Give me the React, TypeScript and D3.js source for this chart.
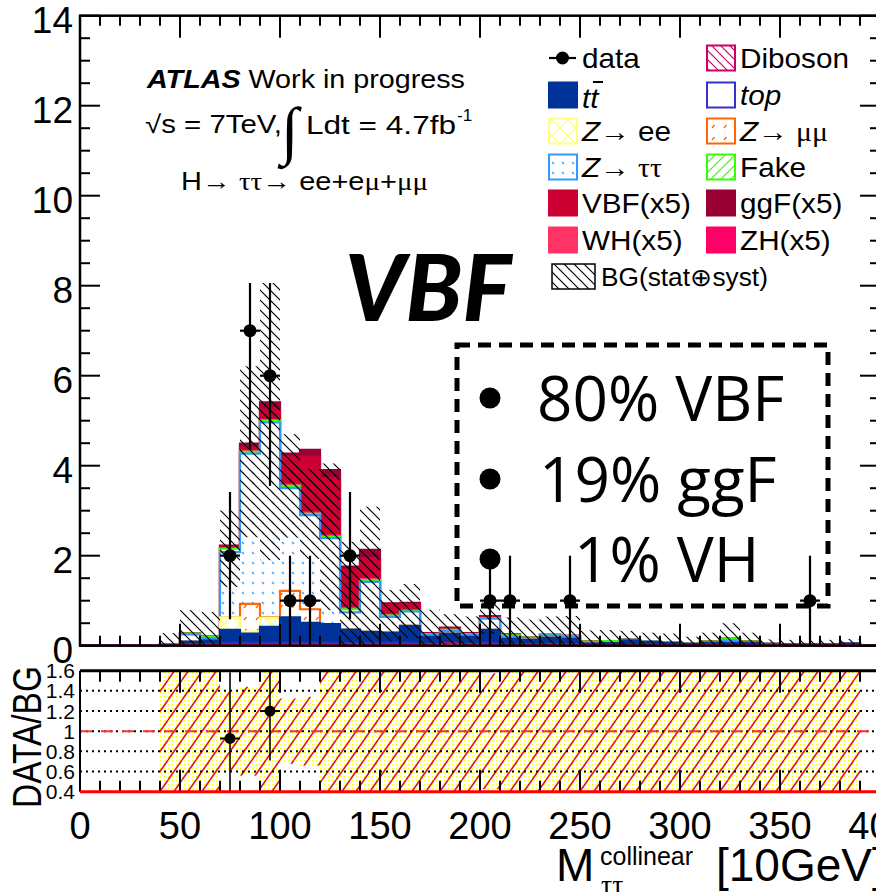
import React from "react";
import * as d3 from "d3";

// 10 GeV bins covering 0-400 on the collinear-mass axis
const binLowEdges = d3.range(0, 400, 10);
const BIN_WIDTH = 10;

// Expected yields per bin (stacked bottom → top)
const dibosonYield = [0,0,0,0,0.005,0.02,0.02,0.03,0.03,0.03,0.03,0.03,0.03,0.03,0.03,0.03,0.03,0.03,0.05,0.03,0.03,0.02,0.02,0.03,0.02,0.01,0.01,0.01,0.01,0.01,0.01,0.02,0.01,0.01,0.01,0.01,0.01,0.01,0.01,0];
const topYield = [0,0,0,0,0,0.01,0.01,0.02,0.02,0.02,0.02,0.02,0.02,0.02,0.02,0.02,0.02,0.01,0.01,0.01,0.02,0.01,0.01,0.01,0.01,0,0,0,0,0,0,0,0,0,0,0,0,0,0,0];
const ttbarYield = [0,0,0,0,0.02,0.06,0.09,0.30,0.22,0.37,0.58,0.46,0.43,0.31,0.26,0.24,0.39,0.16,0.21,0.16,0.30,0.13,0.10,0.14,0.13,0.04,0.05,0.11,0.07,0.05,0.03,0.05,0.06,0.06,0.02,0.02,0.02,0.02,0.04,0];
const zeeYield = [0,0,0,0,0,0,0,0.28,0.05,0.20,0,0,0,0,0,0,0,0,0,0,0,0,0,0,0,0,0,0,0,0,0,0,0,0,0,0,0,0,0,0];
const zmumuYield = [0,0,0,0,0,0,0,0,0.61,0.01,0.59,0.30,0,0,0,0,0,0,0,0,0,0,0,0,0,0,0,0,0,0,0,0,0,0,0,0,0,0,0,0];
const ztautauYield = [0,0,0,0,0.005,0.16,0.05,1.45,3.34,4.33,2.28,2.09,1.91,0.38,1.11,0.35,0.32,0.04,0.06,0.04,0.25,0.04,0.04,0.05,0.03,0.02,0,0.01,0.01,0.01,0.01,0.01,0.05,0.01,0.01,0,0,0,0,0];
const fakeYield = [0,0,0,0,0,0.02,0.02,0.075,0.04,0.04,0.05,0.03,0.03,0.07,0.04,0.03,0.01,0.01,0.02,0.01,0.01,0.03,0.01,0.02,0.02,0.02,0.04,0,0,0,0,0.01,0.03,0.01,0,0,0,0,0,0];
const whYield = [0,0,0,0,0,0,0,0.005,0.01,0.01,0.02,0.02,0.02,0.02,0.02,0.01,0.01,0,0,0,0,0,0,0,0,0,0,0,0,0,0,0,0,0,0,0,0,0,0,0];
const zhYield = [0,0,0,0,0,0,0,0.003,0.005,0.005,0.01,0.01,0.01,0.01,0.01,0.01,0.01,0,0,0,0,0,0,0,0,0,0,0,0,0,0,0,0,0,0,0,0,0,0,0];
const vbfYield = [0,0,0,0,0,0.005,0.005,0.04,0.075,0.255,0.62,1.24,1.27,0.85,0.45,0.21,0.13,0.02,0.03,0.02,0.04,0.01,0.01,0.01,0.01,0,0,0,0,0,0,0,0,0,0,0,0,0,0,0];
const ggfYield = [0,0,0,0,0,0.005,0.005,0.02,0.09,0.14,0.07,0.15,0.18,0.07,0.19,0.04,0.03,0.01,0.02,0.01,0.01,0.01,0,0,0,0,0,0,0,0,0,0,0,0,0,0,0,0,0,0];

// Total background uncertainty (stat ⊕ syst) per bin
const bgUncertainty = [0,0,0,0,0.25,0.52,0.56,0.85,1.9,3.1,1.15,1.0,1.63,1.5,1.63,0.57,0.6,0.55,0.35,0.4,0.35,0.4,0.4,0.4,0.45,0.25,0.25,0.2,0.2,0.2,0.15,0.2,0.35,0.2,0.1,0.1,0.1,0.1,0.1,0];

// Observed events per bin
const dataCounts = [0,0,0,0,0,0,0,2,7,6,1,1,0,2,0,0,0,0,0,0,1,1,0,0,1,0,0,0,0,0,0,0,0,0,0,0,1,0,0,0];

const xTickLabels = [0, 50, 100, 150, 200, 250, 300, 350, 400];
const mainYTickLabels = [0, 2, 4, 6, 8, 10, 12, 14];
const ratioYTicks = [0.4, 0.6, 0.8, 1.0, 1.2, 1.4, 1.6];
const ratioYTickLabels = ["0.4", "0.6", "0.8", "1", "1.2", "1.4", "1.6"];
const ratioGridValues = [0.6, 0.8, 1.0, 1.2, 1.4];

const productionFractions = ["80% VBF", "19% ggF", "1% VH"];

const stackKeys = ["diboson", "top", "ttbar", "zee", "zmumu", "ztautau", "fake", "wh", "zh", "vbf", "ggf"];
const backgroundKeys = ["diboson", "top", "ttbar", "zee", "zmumu", "ztautau", "fake"];
const yieldsByKey: Record<string, number[]> = {
  diboson: dibosonYield, top: topYield, ttbar: ttbarYield, zee: zeeYield, zmumu: zmumuYield,
  ztautau: ztautauYield, fake: fakeYield, wh: whYield, zh: zhYield, vbf: vbfYield, ggf: ggfYield,
};

const styleByKey: Record<string, { fill: string; stroke: string }> = {
  diboson: { fill: "url(#patDiboson)", stroke: "#cc0066" },
  top: { fill: "#ffffff", stroke: "#3333cc" },
  ttbar: { fill: "#003399", stroke: "#003399" },
  zee: { fill: "url(#patZee)", stroke: "#ffff88" },
  zmumu: { fill: "url(#patZmumu)", stroke: "#ff6600" },
  ztautau: { fill: "url(#patZtautau)", stroke: "#3399ff" },
  fake: { fill: "url(#patFake)", stroke: "#33ff00" },
  wh: { fill: "#ff3366", stroke: "#ff3366" },
  zh: { fill: "#ff0066", stroke: "#ff0066" },
  vbf: { fill: "#cc0033", stroke: "#cc0033" },
  ggf: { fill: "#990033", stroke: "#990033" },
};

const FONT = "'Liberation Sans', Arial, Helvetica, sans-serif";
const SYMFONT = "'Liberation Serif', 'DejaVu Serif', serif";

const W = 876;
const H = 892;

const x = d3.scaleLinear().domain([0, 400]).range([80, 880]);
const y = d3.scaleLinear().domain([0, 14]).range([645.7, 15.7]);
const yr = d3.scaleLinear().domain([0.4, 1.6]).range([791.7, 670.7]);

const rows = binLowEdges.map((lo, i) => {
  const r: Record<string, number> = { lo };
  stackKeys.forEach((k) => (r[k] = yieldsByKey[k][i]));
  return r;
});
const stacked = d3.stack<Record<string, number>>().keys(stackKeys)(rows);
const backgroundTotal = rows.map((r) => d3.sum(backgroundKeys, (k) => r[k]));

function stepPath(tops: number[], close: boolean) {
  const p = d3.path();
  p.moveTo(x(0), y(0));
  tops.forEach((t, i) => {
    p.lineTo(x(binLowEdges[i]), y(t));
    p.lineTo(x(binLowEdges[i] + BIN_WIDTH), y(t));
  });
  p.lineTo(x(400), y(0));
  if (close) p.closePath();
  return p.toString();
}

// Text drawn slightly wider than its natural shape
function WideText({ x0, y0, sx = 1.12, children, ...rest }: any) {
  return (
    <text transform={`translate(${x0},${y0}) scale(${sx},1)`} fontFamily={FONT} {...rest}>
      {children}
    </text>
  );
}

function Patterns() {
  return (
    <defs>
      <clipPath id="mainClip"><rect x={80} y={15.7} width={800} height={630} /></clipPath>
      <clipPath id="ratioClip"><rect x={80} y={670.7} width={800} height={121} /></clipPath>
      <pattern id="patZtautau" patternUnits="userSpaceOnUse" width={10} height={10}>
        <rect width={10} height={10} fill="#fff" />
        <line x1={2} y1={2} x2={4} y2={4} stroke="#3399ff" strokeWidth={1.3} />
      </pattern>
      <pattern id="patZmumu" patternUnits="userSpaceOnUse" width={12} height={12}>
        <rect width={12} height={12} fill="#fff" />
        <line x1={4} y1={8} x2={6.5} y2={5} stroke="#ff6600" strokeWidth={1.3} />
      </pattern>
      <pattern id="patZee" patternUnits="userSpaceOnUse" width={16} height={16}>
        <rect width={16} height={16} fill="#fff" />
        <path d="M0,0L16,16M16,0L0,16" stroke="#ffff66" strokeWidth={1.2} />
      </pattern>
      <pattern id="patFake" patternUnits="userSpaceOnUse" width={10} height={10}>
        <rect width={10} height={10} fill="#fff" />
        <path d="M0,10L10,0M-2,2L2,-2M8,12L12,8" stroke="#33ff00" strokeWidth={1.2} />
      </pattern>
      <pattern id="patDiboson" patternUnits="userSpaceOnUse" width={9} height={9}>
        <rect width={9} height={9} fill="#fff" />
        <path d="M0,0L9,9M-2,7L2,11M7,-2L11,2" stroke="#cc0066" strokeWidth={1.2} />
      </pattern>
      <pattern id="patBgErr" patternUnits="userSpaceOnUse" width={10} height={10}>
        <path d="M0,0L10,10M-2,8L2,12M8,-2L12,2" stroke="#000" strokeWidth={1.2} />
      </pattern>
      <pattern id="patRatioDots" patternUnits="userSpaceOnUse" width={4} height={4}>
        <rect x={0} y={0} width={1} height={1} fill="#ffff00" />
      </pattern>
      <pattern id="patRatioLines" patternUnits="userSpaceOnUse" width={14} height={20}>
        <path d="M0,20L14,0M-14,20L0,0M14,20L28,0" stroke="#dd1133" strokeWidth={1.6} />
      </pattern>
    </defs>
  );
}

function MainPanel() {
  const layersTopFirst = [...stacked].reverse();
  const uncertaintyBins = binLowEdges
    .map((lo, i) => ({ lo, bg: backgroundTotal[i], err: bgUncertainty[i] }))
    .filter((d) => d.err > 0);
  const dataPoints = binLowEdges
    .map((lo, i) => ({ lo, n: dataCounts[i] }))
    .filter((d) => d.n > 0);

  const minorY = d3.range(0, 14.001, 0.5);
  const minorX = d3.range(0, 400.001, 10);

  return (
    <g>
      <g clipPath="url(#mainClip)">
        {layersTopFirst.map((layer) => {
          const tops = layer.map((d) => d[1]);
          const st = styleByKey[layer.key];
          return (
            <g key={layer.key}>
              <path d={stepPath(tops, true)} fill={st.fill} />
              <path d={stepPath(tops, false)} fill="none" stroke={st.stroke} strokeWidth={2.2} />
            </g>
          );
        })}
        {uncertaintyBins.map((d) => {
          const hi = Math.min(d.bg + d.err, 14);
          const lo = Math.max(d.bg - d.err, 0);
          return (
            <rect key={d.lo} x={x(d.lo)} y={y(hi)} width={x(d.lo + BIN_WIDTH) - x(d.lo)} height={y(lo) - y(hi)} fill="url(#patBgErr)" />
          );
        })}
        {dataPoints.map((d) => {
          const cx = x(d.lo + BIN_WIDTH / 2);
          const e = Math.sqrt(d.n);
          return (
            <g key={d.lo}>
              <line x1={cx} x2={cx} y1={y(d.n + e)} y2={y(Math.max(d.n - e, 0))} stroke="#000" strokeWidth={2.2} />
              <line x1={x(d.lo)} x2={x(d.lo + BIN_WIDTH)} y1={y(d.n)} y2={y(d.n)} stroke="#000" strokeWidth={2.2} />
              <circle cx={cx} cy={y(d.n)} r={6.5} fill="#000" />
            </g>
          );
        })}
      </g>
      {/* white label pad behind the ATLAS text block */}
      <rect x={110} y={44} width={360} height={239} fill="#fff" />

      {/* frame */}
      <rect x={80} y={15.7} width={800} height={630} fill="none" stroke="#000" strokeWidth={2.5} />
      {minorY.map((v) => {
        const major = Math.abs(v % 2) < 1e-6;
        const len = major ? 20 : 10;
        return (
          <g key={"y" + v}>
            <line x1={80} x2={80 + len} y1={y(v)} y2={y(v)} stroke="#000" strokeWidth={2} />
            <line x1={880} x2={880 - len} y1={y(v)} y2={y(v)} stroke="#000" strokeWidth={2} />
          </g>
        );
      })}
      {minorX.map((v) => {
        const major = v % 50 === 0;
        const len = major ? 22 : 10;
        return (
          <g key={"x" + v}>
            <line x1={x(v)} x2={x(v)} y1={15.7} y2={15.7 + len} stroke="#000" strokeWidth={2} />
            <line x1={x(v)} x2={x(v)} y1={645.7} y2={645.7 - len} stroke="#000" strokeWidth={2} />
          </g>
        );
      })}
      {mainYTickLabels.map((v) => (
        <text key={v} x={73} y={y(v) + 5} fontSize={37} fontFamily={FONT} textAnchor="end" dominantBaseline="central">{v}</text>
      ))}
    </g>
  );
}

function RatioPanel() {
  const bands = binLowEdges
    .map((lo, i) => ({ lo, bg: backgroundTotal[i], err: bgUncertainty[i] }))
    .filter((d) => d.bg > 0 && d.err > 0)
    .map((d) => ({ lo: d.lo, hi: Math.min(1 + d.err / d.bg, 1.6), low: Math.max(1 - d.err / d.bg, 0.4) }));
  const ratioPoints = binLowEdges
    .map((lo, i) => ({ lo, n: dataCounts[i], bg: backgroundTotal[i] }))
    .filter((d) => d.n > 0 && d.bg > 0)
    .map((d) => ({ lo: d.lo, r: d.n / d.bg, e: Math.sqrt(d.n) / d.bg }))
    .filter((d) => d.r >= 0.4 && d.r <= 1.6);
  const minorX = d3.range(0, 400.001, 10);

  return (
    <g>
      <g clipPath="url(#ratioClip)">
        {bands.map((b) => (
          <g key={b.lo}>
            <rect x={x(b.lo)} y={yr(b.hi)} width={x(b.lo + BIN_WIDTH) - x(b.lo)} height={yr(b.low) - yr(b.hi)} fill="url(#patRatioDots)" />
            <rect x={x(b.lo)} y={yr(b.hi)} width={x(b.lo + BIN_WIDTH) - x(b.lo)} height={yr(b.low) - yr(b.hi)} fill="url(#patRatioLines)" />
          </g>
        ))}
        {ratioGridValues.map((v) => (
          <line key={v} x1={80} x2={880} y1={yr(v)} y2={yr(v)} stroke="#000" strokeWidth={2} strokeDasharray="2,4" />
        ))}
        <line x1={80} x2={880} y1={yr(1)} y2={yr(1)} stroke="#ff3333" strokeWidth={2} strokeDasharray="12,9" />
        {ratioPoints.map((d) => {
          const cx = x(d.lo + BIN_WIDTH / 2);
          return (
            <g key={d.lo}>
              <line x1={cx} x2={cx} y1={yr(Math.min(d.r + d.e, 1.6))} y2={yr(Math.max(d.r - d.e, 0.4))} stroke="#000" strokeWidth={1.6} />
              <line x1={x(d.lo)} x2={x(d.lo + BIN_WIDTH)} y1={yr(d.r)} y2={yr(d.r)} stroke="#000" strokeWidth={2} />
              <circle cx={cx} cy={yr(d.r)} r={5.5} fill="#000" />
            </g>
          );
        })}
        {minorX.map((v) => {
          const major = v % 50 === 0;
          const len = major ? 22 : 11;
          return (
            <g key={"rx" + v}>
              <line x1={x(v)} x2={x(v)} y1={670.7} y2={670.7 + len} stroke="#000" strokeWidth={2} />
              <line x1={x(v)} x2={x(v)} y1={791.7} y2={791.7 - len} stroke="#000" strokeWidth={2} />
            </g>
          );
        })}
      </g>
      <line x1={80} x2={880} y1={670.7} y2={670.7} stroke="#000" strokeWidth={3} />
      <line x1={80} x2={80} y1={670.7} y2={791.7} stroke="#000" strokeWidth={2} />
      <line x1={880} x2={880} y1={670.7} y2={791.7} stroke="#000" strokeWidth={2} />
      <line x1={80} x2={880} y1={791.7} y2={791.7} stroke="#ff0000" strokeWidth={3} />
      {ratioYTicks.map((v, i) => (
        <text key={v} x={75} y={yr(v)} fontSize={21} fontFamily={FONT} textAnchor="end" dominantBaseline="central">{ratioYTickLabels[i]}</text>
      ))}
      {xTickLabels.map((v) => (
        <text key={v} x={x(v)} y={826} fontSize={38} fontFamily={FONT} textAnchor="middle" dominantBaseline="central">{v}</text>
      ))}
      <text transform="translate(41,737) rotate(-90)" fontSize={40} fontFamily={FONT} textAnchor="middle" textLength={142} lengthAdjust="spacingAndGlyphs">DATA/BG</text>
      <text x={556} y={881} fontSize={46} fontFamily={FONT}>M</text>
      <text x={600} y={865} fontSize={25} fontFamily={FONT}>collinear</text>
      <text x={601} y={894} fontSize={28} fontFamily={SYMFONT}>ττ</text>
      <text x={716} y={881} fontSize={46} fontFamily={FONT}>[10GeV]</text>
    </g>
  );
}

function LegendSwatch({ x0, y0, k }: { x0: number; y0: number; k: string }) {
  const st = styleByKey[k];
  return <rect x={x0} y={y0 - 12.5} width={28} height={25} fill={st.fill} stroke={st.stroke} strokeWidth={2} />;
}

function Legend() {
  const rowY = [58, 95, 131, 167, 203, 240, 277];
  const lx = 549, tx = 582, rx = 707, rtx = 740;
  const fs = 27;
  const sx = 1.1;
  return (
    <g fontFamily={FONT} fontSize={fs}>
      <line x1={lx} x2={lx + 27} y1={rowY[0]} y2={rowY[0]} stroke="#000" strokeWidth={2.2} />
      <circle cx={lx + 13.5} cy={rowY[0]} r={6.5} fill="#000" />
      <WideText x0={tx} y0={rowY[0]} sx={sx} fontSize={fs} dominantBaseline="central">data</WideText>
      <LegendSwatch x0={lx} y0={rowY[1]} k="ttbar" />
      <WideText x0={tx} y0={rowY[1] + 3} sx={sx} fontSize={fs} dominantBaseline="central" fontStyle="italic">tt</WideText>
      <line x1={tx + 11} x2={tx + 21} y1={rowY[1] - 13} y2={rowY[1] - 13} stroke="#000" strokeWidth={2} />
      <LegendSwatch x0={lx} y0={rowY[2]} k="zee" />
      <WideText x0={tx} y0={rowY[2]} sx={sx} fontSize={fs} dominantBaseline="central"><tspan fontStyle="italic">Z</tspan>→ ee</WideText>
      <LegendSwatch x0={lx} y0={rowY[3]} k="ztautau" />
      <WideText x0={tx} y0={rowY[3]} sx={sx} fontSize={fs} dominantBaseline="central"><tspan fontStyle="italic">Z</tspan>→ <tspan fontFamily={SYMFONT}>ττ</tspan></WideText>
      <LegendSwatch x0={lx} y0={rowY[4]} k="vbf" />
      <WideText x0={tx} y0={rowY[4]} sx={sx} fontSize={fs} dominantBaseline="central">VBF(x5)</WideText>
      <LegendSwatch x0={lx} y0={rowY[5]} k="wh" />
      <WideText x0={tx} y0={rowY[5]} sx={sx} fontSize={fs} dominantBaseline="central">WH(x5)</WideText>
      <rect x={552} y={264} width={43} height={25} fill="url(#patBgErr)" stroke="#000" strokeWidth={1.5} />
      <WideText x0={601} y0={rowY[6]} sx={1.05} fontSize={25} dominantBaseline="central">BG(stat⊕syst)</WideText>

      <LegendSwatch x0={rx} y0={rowY[0]} k="diboson" />
      <WideText x0={rtx} y0={rowY[0]} sx={sx} fontSize={fs} dominantBaseline="central">Diboson</WideText>
      <LegendSwatch x0={rx} y0={rowY[1]} k="top" />
      <WideText x0={rtx} y0={rowY[1]} sx={sx} fontSize={fs} dominantBaseline="central" fontStyle="italic">top</WideText>
      <LegendSwatch x0={rx} y0={rowY[2]} k="zmumu" />
      <WideText x0={rtx} y0={rowY[2]} sx={sx} fontSize={fs} dominantBaseline="central"><tspan fontStyle="italic">Z</tspan>→ <tspan fontFamily={SYMFONT}>μμ</tspan></WideText>
      <LegendSwatch x0={rx} y0={rowY[3]} k="fake" />
      <WideText x0={rtx} y0={rowY[3]} sx={sx} fontSize={fs} dominantBaseline="central">Fake</WideText>
      <LegendSwatch x0={rx} y0={rowY[4]} k="ggf" />
      <WideText x0={rtx} y0={rowY[4]} sx={sx} fontSize={fs} dominantBaseline="central">ggF(x5)</WideText>
      <LegendSwatch x0={rx} y0={rowY[5]} k="zh" />
      <WideText x0={rtx} y0={rowY[5]} sx={sx} fontSize={fs} dominantBaseline="central">ZH(x5)</WideText>
    </g>
  );
}

function Annotations() {
  const lines = [421, 502, 582];
  const textX = [537, 539, 574];
  return (
    <g>
      <text x={147} y={88} fontSize={26} fontFamily={FONT} textLength={318} lengthAdjust="spacingAndGlyphs">
        <tspan fontWeight="bold" fontStyle="italic">ATLAS</tspan> Work in progress
      </text>
      <text x={145} y={133} fontSize={25} fontFamily={FONT} textLength={137} lengthAdjust="spacingAndGlyphs">√s = 7TeV,</text>
      <text x={281} y={152} fontSize={64} fontFamily={SYMFONT}>∫</text>
      <text x={306} y={134} fontSize={25} fontFamily={FONT} textLength={150} lengthAdjust="spacingAndGlyphs">Ldt = 4.7fb</text>
      <text x={457} y={121} fontSize={17} fontFamily={FONT}>-1</text>
      <text x={181} y={190} fontSize={25} fontFamily={FONT} textLength={247} lengthAdjust="spacingAndGlyphs">
        H→ <tspan fontFamily={SYMFONT}>ττ</tspan>→ ee+e<tspan fontFamily={SYMFONT}>μ</tspan>+<tspan fontFamily={SYMFONT}>μμ</tspan>
      </text>

      <text x={345} y={321} fontSize={92} fontFamily="Lato, 'Open Sans', sans-serif" fontWeight="900" fontStyle="italic">VBF</text>

      <rect x={457} y={345} width={371} height={261} fill="none" stroke="#000" strokeWidth={5} strokeDasharray="13,8" />
      {productionFractions.map((t, i) => (
        <g key={t}>
          <circle cx={490} cy={lines[i] - 23} r={10.5} fill="#000" />
          <text x={textX[i]} y={lines[i]} fontSize={62} fontFamily="'Open Sans', 'Noto Sans', sans-serif">{t}</text>
        </g>
      ))}
    </g>
  );
}

export default function App() {
  return (
    <svg width={W} height={H} viewBox={`0 0 ${W} ${H}`} style={{ position: "absolute", left: 0, top: 0, background: "#fff" }}>
      <Patterns />
      <rect width={W} height={H} fill="#fff" />
      <MainPanel />
      <Annotations />
      <Legend />
      <RatioPanel />
    </svg>
  );
}
